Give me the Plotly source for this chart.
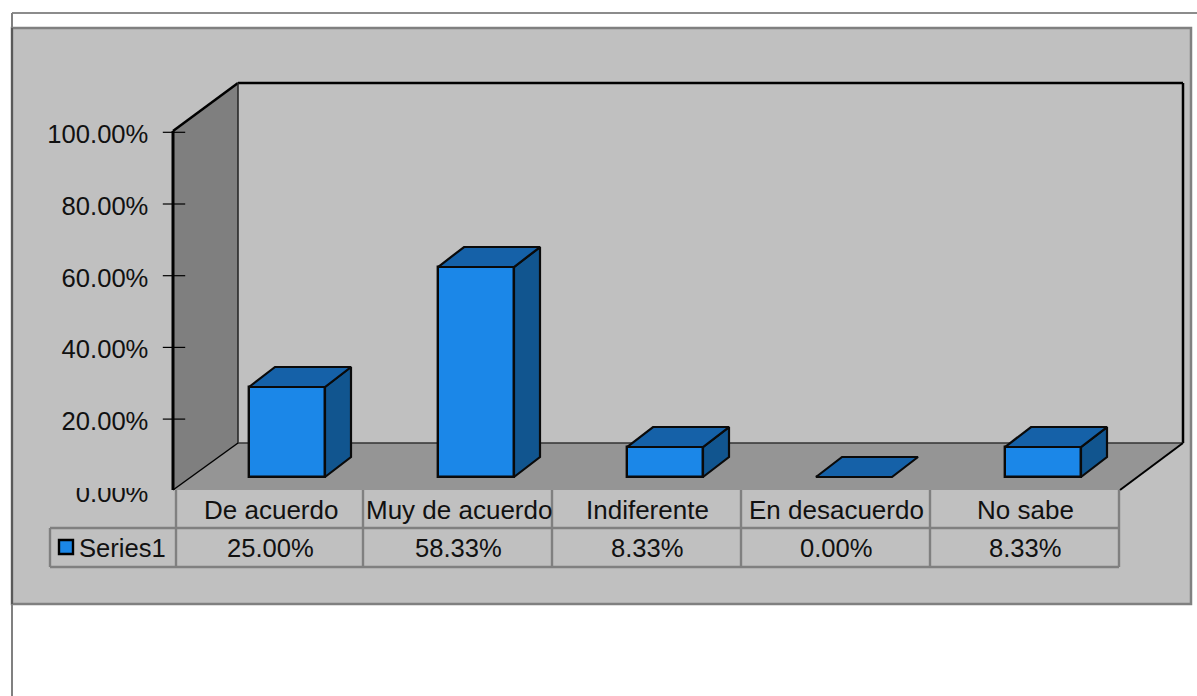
import plotly.graph_objects as go

categories = ["De acuerdo", "Muy de acuerdo", "Indiferente", "En desacuerdo", "No sabe"]
values = [0.25, 0.5833, 0.0833, 0.0, 0.0833]
series_name = "Series1"
axis_ticks = [0.0, 0.2, 0.4, 0.6, 0.8, 1.0]

W, H = 1197, 696
FONT = "Liberation Sans"
FS = 25.6
FS_CAT = 26
FRONT, TOP, SIDE = "#1B87E8", "#1561A8", "#11558F"
GRAY = "#C0C0C0"
EDGE = "#808080"

# pixel layout of the 3D frame
def px(x): return x / W
def py(y): return 1 - y / H

def poly(points):
    return "M" + " L".join(f"{px(x):.5f},{py(y):.5f}" for x, y in points) + " Z"

def shape_poly(points, fill, layer="below"):
    return dict(type="path", path=poly(points), xref="paper", yref="paper",
                fillcolor=fill, line=dict(width=0), layer=layer)

def seg(x0, y0, x1, y1, color="black", width=2, layer="below"):
    return dict(type="line", xref="paper", yref="paper", x0=px(x0), y0=py(y0),
                x1=px(x1), y1=py(y1), line=dict(color=color, width=width), layer=layer)

# value scale and category scale of the front of the bars
X_STEP, X0 = 189.0, 287.0
Y_UNIT, Y0 = 360.0, 477.0
BAR_W = 76 / X_STEP
DX, DY = 26 / X_STEP, 20 / Y_UNIT

top_x, top_y, side_x, side_y = [], [], [], []
for i, v in enumerate(values):
    l, r = i - BAR_W / 2, i + BAR_W / 2
    top_x += [l, r, r + DX, l + DX, l, None]
    top_y += [v, v, v + DY, v + DY, v, None]
    if v > 0:
        side_x += [r, r + DX, r + DX, r, r, None]
        side_y += [0, DY, v + DY, v, 0, None]

fig = go.Figure()
fig.add_trace(go.Bar(x=list(range(len(values))), y=values, width=BAR_W,
                     marker=dict(color=FRONT, line=dict(color="#0A0A0A", width=2.4)),
                     showlegend=False, hoverinfo="skip"))
fig.add_trace(go.Scatter(x=side_x, y=side_y, mode="lines", fill="toself", fillcolor=SIDE,
                         line=dict(color="#0A0A0A", width=2.2), showlegend=False, hoverinfo="skip"))
fig.add_trace(go.Scatter(x=top_x, y=top_y, mode="lines", fill="toself", fillcolor=TOP,
                         line=dict(color="#0A0A0A", width=2.2), showlegend=False, hoverinfo="skip"))
# crossing tick marks of the value axis
fig.add_trace(go.Scatter(x=[(174 - X0) / X_STEP] * (len(axis_ticks) - 1), y=axis_ticks[1:], yaxis="y2",
                         mode="markers",
                         marker=dict(symbol="line-ew", size=16, line=dict(color="black", width=1.2)),
                         showlegend=False, hoverinfo="skip"))

shapes = [
    seg(12, 13, 1197, 13, "#666666", 1.5),
    seg(12, 13, 12, 696, EDGE, 2),
    dict(type="rect", xref="paper", yref="paper", x0=px(12), x1=px(1191), y0=py(28), y1=py(604),
         fillcolor=GRAY, line=dict(color=EDGE, width=2.5), layer="below"),
    seg(12, 28, 12, 604, "#595959", 2),
    shape_poly([(173, 131), (238, 83), (238, 443), (173, 490)], "#7F7F7F"),
    shape_poly([(238, 443), (1183, 443), (1120, 490), (173, 490)], "#959595"),
    seg(238, 83, 1183, 83, "black", 2.5),
    seg(1183, 83, 1183, 443, "black", 2.5),
    seg(173, 131, 238, 83, "black", 2.5),
    seg(173, 131, 173, 490, "black", 3),
    seg(238, 83, 238, 443, "#222222", 1.5),
    seg(238, 443, 1183, 443, "#333333", 1.5),
    seg(173, 490, 238, 443, "black", 1.5),
    seg(1120, 490, 1183, 443, "black", 2),
    # covers the top of the clipped 0.00% label
    dict(type="rect", xref="paper", yref="paper", x0=px(40), x1=px(171), y0=py(488), y1=py(465),
         fillcolor=GRAY, line=dict(width=0), layer="above"),
]

# data table under the chart
col_x = [176, 363, 552, 741, 930, 1119]
ROW0, ROW1, ROW2 = 490, 528, 567
for x in col_x:
    shapes.append(seg(x, ROW0, x, ROW2, EDGE, 2.4, "above"))
shapes += [seg(50, ROW1, 1119, ROW1, EDGE, 2.4, "above"),
           seg(50, ROW2, 1119, ROW2, EDGE, 2.4, "above"),
           seg(50, ROW1, 50, ROW2, EDGE, 2.4, "above")]
# legend key
shapes.append(dict(type="rect", xref="paper", yref="paper", x0=px(59), x1=px(73), y0=py(540), y1=py(554),
                   fillcolor=FRONT, line=dict(color="black", width=2.4), layer="above"))

def text(x, y, s, anchor="center", size=FS):
    return dict(x=px(x), y=py(y), xref="paper", yref="paper", text=s, showarrow=False,
                xanchor=anchor, yanchor="middle", font=dict(family=FONT, size=size, color="#111111"))

annotations = [text(77, 548, series_name, "left")]
for i, c in enumerate(categories):
    mid = (col_x[i] + col_x[i + 1]) / 2 + 1
    annotations.append(text(mid, 510, c, size=FS_CAT))
    annotations.append(text(mid, 548, f"{values[i]:.2%}"))

fig.update_layout(
    width=W, height=H, margin=dict(l=0, r=0, t=0, b=0),
    paper_bgcolor="white", plot_bgcolor="rgba(0,0,0,0)",
    bargap=0, showlegend=False, shapes=shapes, annotations=annotations,
    font=dict(family=FONT, size=FS, color="#111111"),
    xaxis=dict(range=[-X0 / X_STEP, (W - X0) / X_STEP], visible=False, fixedrange=True),
    yaxis=dict(range=[-(H - Y0) / Y_UNIT, Y0 / Y_UNIT], visible=False, fixedrange=True),
    yaxis2=dict(range=[-(H - 490.8) / 358.5, 490.8 / 358.5], overlaying="y", anchor="free",
                position=173.5 / W, side="left", tickvals=axis_ticks, tickformat=".2%",
                ticks="outside", ticklen=20, tickcolor="rgba(0,0,0,0)", showgrid=False,
                zeroline=False, showline=False, fixedrange=True, ticklabelshift=2,
                tickfont=dict(family=FONT, size=FS, color="#111111")),
)

fig.write_html("out.html", config=dict(displayModeBar=False),
               post_script="document.body.style.margin='0';document.body.style.overflow='hidden';")
